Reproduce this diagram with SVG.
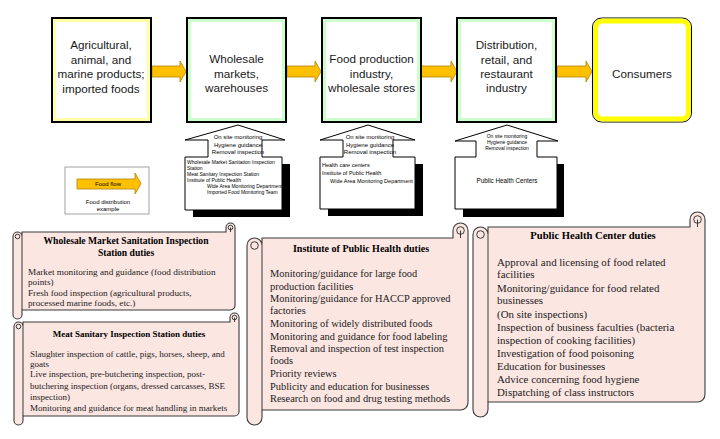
<svg xmlns="http://www.w3.org/2000/svg" width="720" height="439" viewBox="0 0 720 439">
<style>
.bg{fill:#ffffff}
.outer{fill:#ffffff;stroke:#000000;stroke-width:2}
.inY{fill:none;stroke:#FFFFA8;stroke-width:3}
.inG{fill:none;stroke:#CCFFCC;stroke-width:3}
.flow{fill:#FFC000;stroke:#B08400;stroke-width:0.8}
.bt{font-family:"Liberation Sans",Arial,sans-serif;font-size:11.7px;fill:#1a1a1a;text-anchor:middle}
.co{fill:#ffffff;stroke:#000000;stroke-width:1}
.sh{fill:#000000}
.ct{font-family:"Liberation Sans",Arial,sans-serif;font-size:6px;fill:#000;text-anchor:middle}
.cl{font-family:"Liberation Sans",Arial,sans-serif;font-size:5px;fill:#000}
.sc{fill:#FCE6E2;stroke:#3a3a3a;stroke-width:1.1}
.scl{fill:none;stroke:#3a3a3a;stroke-width:1}
.st{font-family:"Liberation Serif","Times New Roman",serif;font-weight:bold;fill:#000;text-anchor:middle}
.sb{font-family:"Liberation Serif","Times New Roman",serif;fill:#1a1a1a}
</style>
<rect class="bg" x="0" y="0" width="720" height="439"/>

<g id="connectors">
<path class="flow" d="M152,66 H180 V61 L186,71.5 L180,82 V77 H152 Z"/>
<path class="flow" d="M287,66 H315 V61 L321,71.5 L315,82 V77 H287 Z"/>
<path class="flow" d="M421,66 H451 V61 L457,71.5 L451,82 V77 H421 Z"/>
<path class="flow" d="M557,66 H586 V61 L592,71.5 L586,82 V77 H557 Z"/>
</g>

<g id="node-agri">
<rect class="outer" x="52" y="18" width="99" height="104"/>
<rect class="inY" x="54.5" y="20.5" width="94" height="99"/>
<text class="bt" x="101" y="49">Agricultural,</text>
<text class="bt" x="101" y="64">animal, and</text>
<text class="bt" x="101" y="78">marine products;</text>
<text class="bt" x="101" y="92.5">imported foods</text>
</g>

<g id="node-wholesale">
<rect class="outer" x="187" y="18" width="99" height="104"/>
<rect class="inG" x="189.5" y="20.5" width="94" height="99"/>
<text class="bt" x="236.5" y="63">Wholesale</text>
<text class="bt" x="236.5" y="78">markets,</text>
<text class="bt" x="236.5" y="92">warehouses</text>
</g>

<g id="node-foodprod">
<rect class="outer" x="322" y="18" width="99" height="104"/>
<rect class="inG" x="324.5" y="20.5" width="94" height="99"/>
<text class="bt" x="371.5" y="63">Food production</text>
<text class="bt" x="371.5" y="78">industry,</text>
<text class="bt" x="371.5" y="92">wholesale stores</text>
</g>

<g id="node-distribution">
<rect class="outer" x="457" y="18" width="99" height="104"/>
<rect class="inG" x="459.5" y="20.5" width="94" height="99"/>
<text class="bt" x="506.5" y="49">Distribution,</text>
<text class="bt" x="506.5" y="64">retail, and</text>
<text class="bt" x="506.5" y="78">restaurant</text>
<text class="bt" x="506.5" y="92">industry</text>
</g>

<g id="node-consumers">
<rect x="592.5" y="18" width="99" height="104" rx="9" fill="#ffffff" stroke="#000" stroke-width="1"/>
<rect x="595.5" y="21" width="93" height="98" rx="7" fill="#ffffff" stroke="#FFFF00" stroke-width="5"/>
<text class="bt" x="642" y="78">Consumers</text>
</g>

<g id="callout-wholesale">
<rect class="sh" x="193" y="164" width="97" height="53"/>
<path class="co" d="M185,157 H208 V140 H185 L238,125 L285,140 H262 V157 H282 V210 H185 Z"/>
<text class="ct" x="238" y="139">On site monitoring</text>
<text class="ct" x="238" y="146.5">Hygiene guidance</text>
<text class="ct" x="238" y="154">Removal inspection</text>
<text class="cl" x="187" y="164">Wholesale Market Sanitation Inspection</text>
<text class="cl" x="187" y="169.5">Station</text>
<text class="cl" x="187" y="175.5">Meat Sanitary Inspection Station</text>
<text class="cl" x="187" y="181.5">Institute of Public Health</text>
<text class="cl" x="207" y="188">Wide Area Monitoring Department</text>
<text class="cl" x="207" y="194">Imported Food Monitoring Team</text>
</g>

<g id="callout-foodprod">
<rect class="sh" x="328" y="164" width="95" height="52"/>
<path class="co" d="M320,157 H343 V140 H320 L368,125 L415,140 H393 V157 H415 V209 H320 Z"/>
<text class="ct" x="370" y="139">On site monitoring</text>
<text class="ct" x="370" y="146.5">Hygiene guidance</text>
<text class="ct" x="370" y="154">Removal inspection</text>
<text class="cl" x="322" y="167" style="font-size:5.5px">Health care centers</text>
<text class="cl" x="322" y="175" style="font-size:5.5px">Institute of Public Health</text>
<text class="cl" x="330" y="183" style="font-size:5.5px">Wide Area Monitoring Department</text>
</g>

<g id="callout-distribution">
<rect class="sh" x="463" y="164" width="101" height="53"/>
<path class="co" d="M455,157 H476 V141 H455 L507,125 L558,141 H537 V157 H557 V209 H455 Z"/>
<text class="ct" x="507" y="138" style="font-size:5px">On site monitoring</text>
<text class="ct" x="507" y="144" style="font-size:5px">Hygiene guidance</text>
<text class="ct" x="507" y="150" style="font-size:5px">Removal inspection</text>
<text class="ct" x="507" y="183" style="font-size:6.3px">Public Health Centers</text>
</g>

<g id="legend">
<rect x="65" y="167" width="84" height="47" fill="#ffffff" stroke="#8c8c8c" stroke-width="0.8"/>
<path class="flow" d="M77,179 H135 V173 L141,183.5 L135,194 V189 H77 Z"/>
<text class="ct" x="108" y="186">Food flow</text>
<text class="ct" x="108" y="203.5">Food distribution</text>
<text class="ct" x="108" y="210.5">example</text>
</g>

<g id="scroll-wholesale">
<path class="sc" d="M22,232 H226 V227.5 A4.5,4.5 0 0 1 235,227.5 V305.5 A4.5,4.5 0 0 1 230.5,310 H22 V314.5 A4.5,4.5 0 0 1 13,314.5 V236.5 A4.5,4.5 0 0 1 22,236.5 Z"/>
<path class="scl" d="M22,236.5 V310 M230.5,227.5 V232"/>
<circle class="scl" cx="17.5" cy="236.5" r="2.3"/>
<circle class="scl" cx="230.5" cy="227.5" r="2.3"/>
<text class="st" x="126" y="244" style="font-size:9.6px">Wholesale Market Sanitation Inspection</text>
<text class="st" x="126" y="256" style="font-size:9.6px">Station duties</text>
<text class="sb" x="28" y="275" style="font-size:9.2px">Market monitoring and guidance (food distribution</text>
<text class="sb" x="28" y="285" style="font-size:9.2px">points)</text>
<text class="sb" x="28" y="295.5" style="font-size:9.2px">Fresh food inspection (agricultural products,</text>
<text class="sb" x="28" y="306" style="font-size:9.2px">processed marine foods, etc.)</text>
</g>

<g id="scroll-meat">
<path class="sc" d="M23,322 H230 V317.5 A4.5,4.5 0 0 1 239,317.5 V411.5 A4.5,4.5 0 0 1 234.5,416 H23 V420.5 A4.5,4.5 0 0 1 14,420.5 V326.5 A4.5,4.5 0 0 1 23,326.5 Z"/>
<path class="scl" d="M23,326.5 V416 M234.5,317.5 V322"/>
<circle class="scl" cx="18.5" cy="326.5" r="2.3"/>
<circle class="scl" cx="234.5" cy="317.5" r="2.3"/>
<text class="st" x="129" y="336.5" style="font-size:9px">Meat Sanitary Inspection Station duties</text>
<text class="sb" x="30" y="356.5" style="font-size:9px">Slaughter inspection of cattle, pigs, horses, sheep, and</text>
<text class="sb" x="30" y="366.5" style="font-size:9px">goats</text>
<text class="sb" x="30" y="377" style="font-size:9px">Live inspection, pre-butchering inspection, post-</text>
<text class="sb" x="30" y="388.5" style="font-size:9px">butchering inspection (organs, dressed carcasses, BSE</text>
<text class="sb" x="30" y="399.5" style="font-size:9px">inspection)</text>
<text class="sb" x="30" y="410.5" style="font-size:9px">Monitoring and guidance for meat handling in markets</text>
</g>

<g id="scroll-iph">
<path class="sc" d="M262,238 H453 V230.5 A7.5,7.5 0 0 1 468,230.5 V402.5 A7.5,7.5 0 0 1 460.5,410 H262 V417.5 A7.5,7.5 0 0 1 247,417.5 V245.5 A7.5,7.5 0 0 1 262,245.5 Z"/>
<path class="scl" d="M262,245.5 V410 M460.5,230.5 V238"/>
<circle class="scl" cx="254.5" cy="245.5" r="3.8"/>
<circle class="scl" cx="460.5" cy="230.5" r="3.8"/>
<text class="st" x="361" y="251.5" style="font-size:10px">Institute of Public Health duties</text>
<g class="sb" style="font-size:10.4px">
<text x="270" y="277">Monitoring/guidance for large food</text>
<text x="270" y="289.5">production facilities</text>
<text x="270" y="302">Monitoring/guidance for HACCP approved</text>
<text x="270" y="314">factories</text>
<text x="270" y="327">Monitoring of widely distributed foods</text>
<text x="270" y="339.5">Monitoring and guidance for food labeling</text>
<text x="270" y="352">Removal and inspection of test inspection</text>
<text x="270" y="364">foods</text>
<text x="270" y="377">Priority reviews</text>
<text x="270" y="389.5">Publicity and education for businesses</text>
<text x="270" y="402">Research on food and drug testing methods</text>
</g>
</g>

<g id="scroll-phc">
<path class="sc" d="M488,227 H690 V219.5 A7.5,7.5 0 0 1 705,219.5 V394.5 A7.5,7.5 0 0 1 697.5,402 H488 V409.5 A7.5,7.5 0 0 1 473,409.5 V234.5 A7.5,7.5 0 0 1 488,234.5 Z"/>
<path class="scl" d="M488,234.5 V402 M697.5,219.5 V227"/>
<circle class="scl" cx="480.5" cy="234.5" r="3.8"/>
<circle class="scl" cx="697.5" cy="219.5" r="3.8"/>
<text class="st" x="593" y="238.5" style="font-size:10.6px">Public Health Center duties</text>
<g class="sb" style="font-size:10.9px">
<text x="497" y="265.5">Approval and licensing of food related</text>
<text x="497" y="278">facilities</text>
<text x="497" y="291.5">Monitoring/guidance for food related</text>
<text x="497" y="304">businesses</text>
<text x="497" y="317.5">(On site inspections)</text>
<text x="497" y="330.5">Inspection of business faculties (bacteria</text>
<text x="497" y="343.5">inspection of cooking facilities)</text>
<text x="497" y="357">Investigation of food poisoning</text>
<text x="497" y="370">Education for businesses</text>
<text x="497" y="383">Advice concerning food hygiene</text>
<text x="497" y="396">Dispatching of class instructors</text>
</g>
</g>
</svg>
